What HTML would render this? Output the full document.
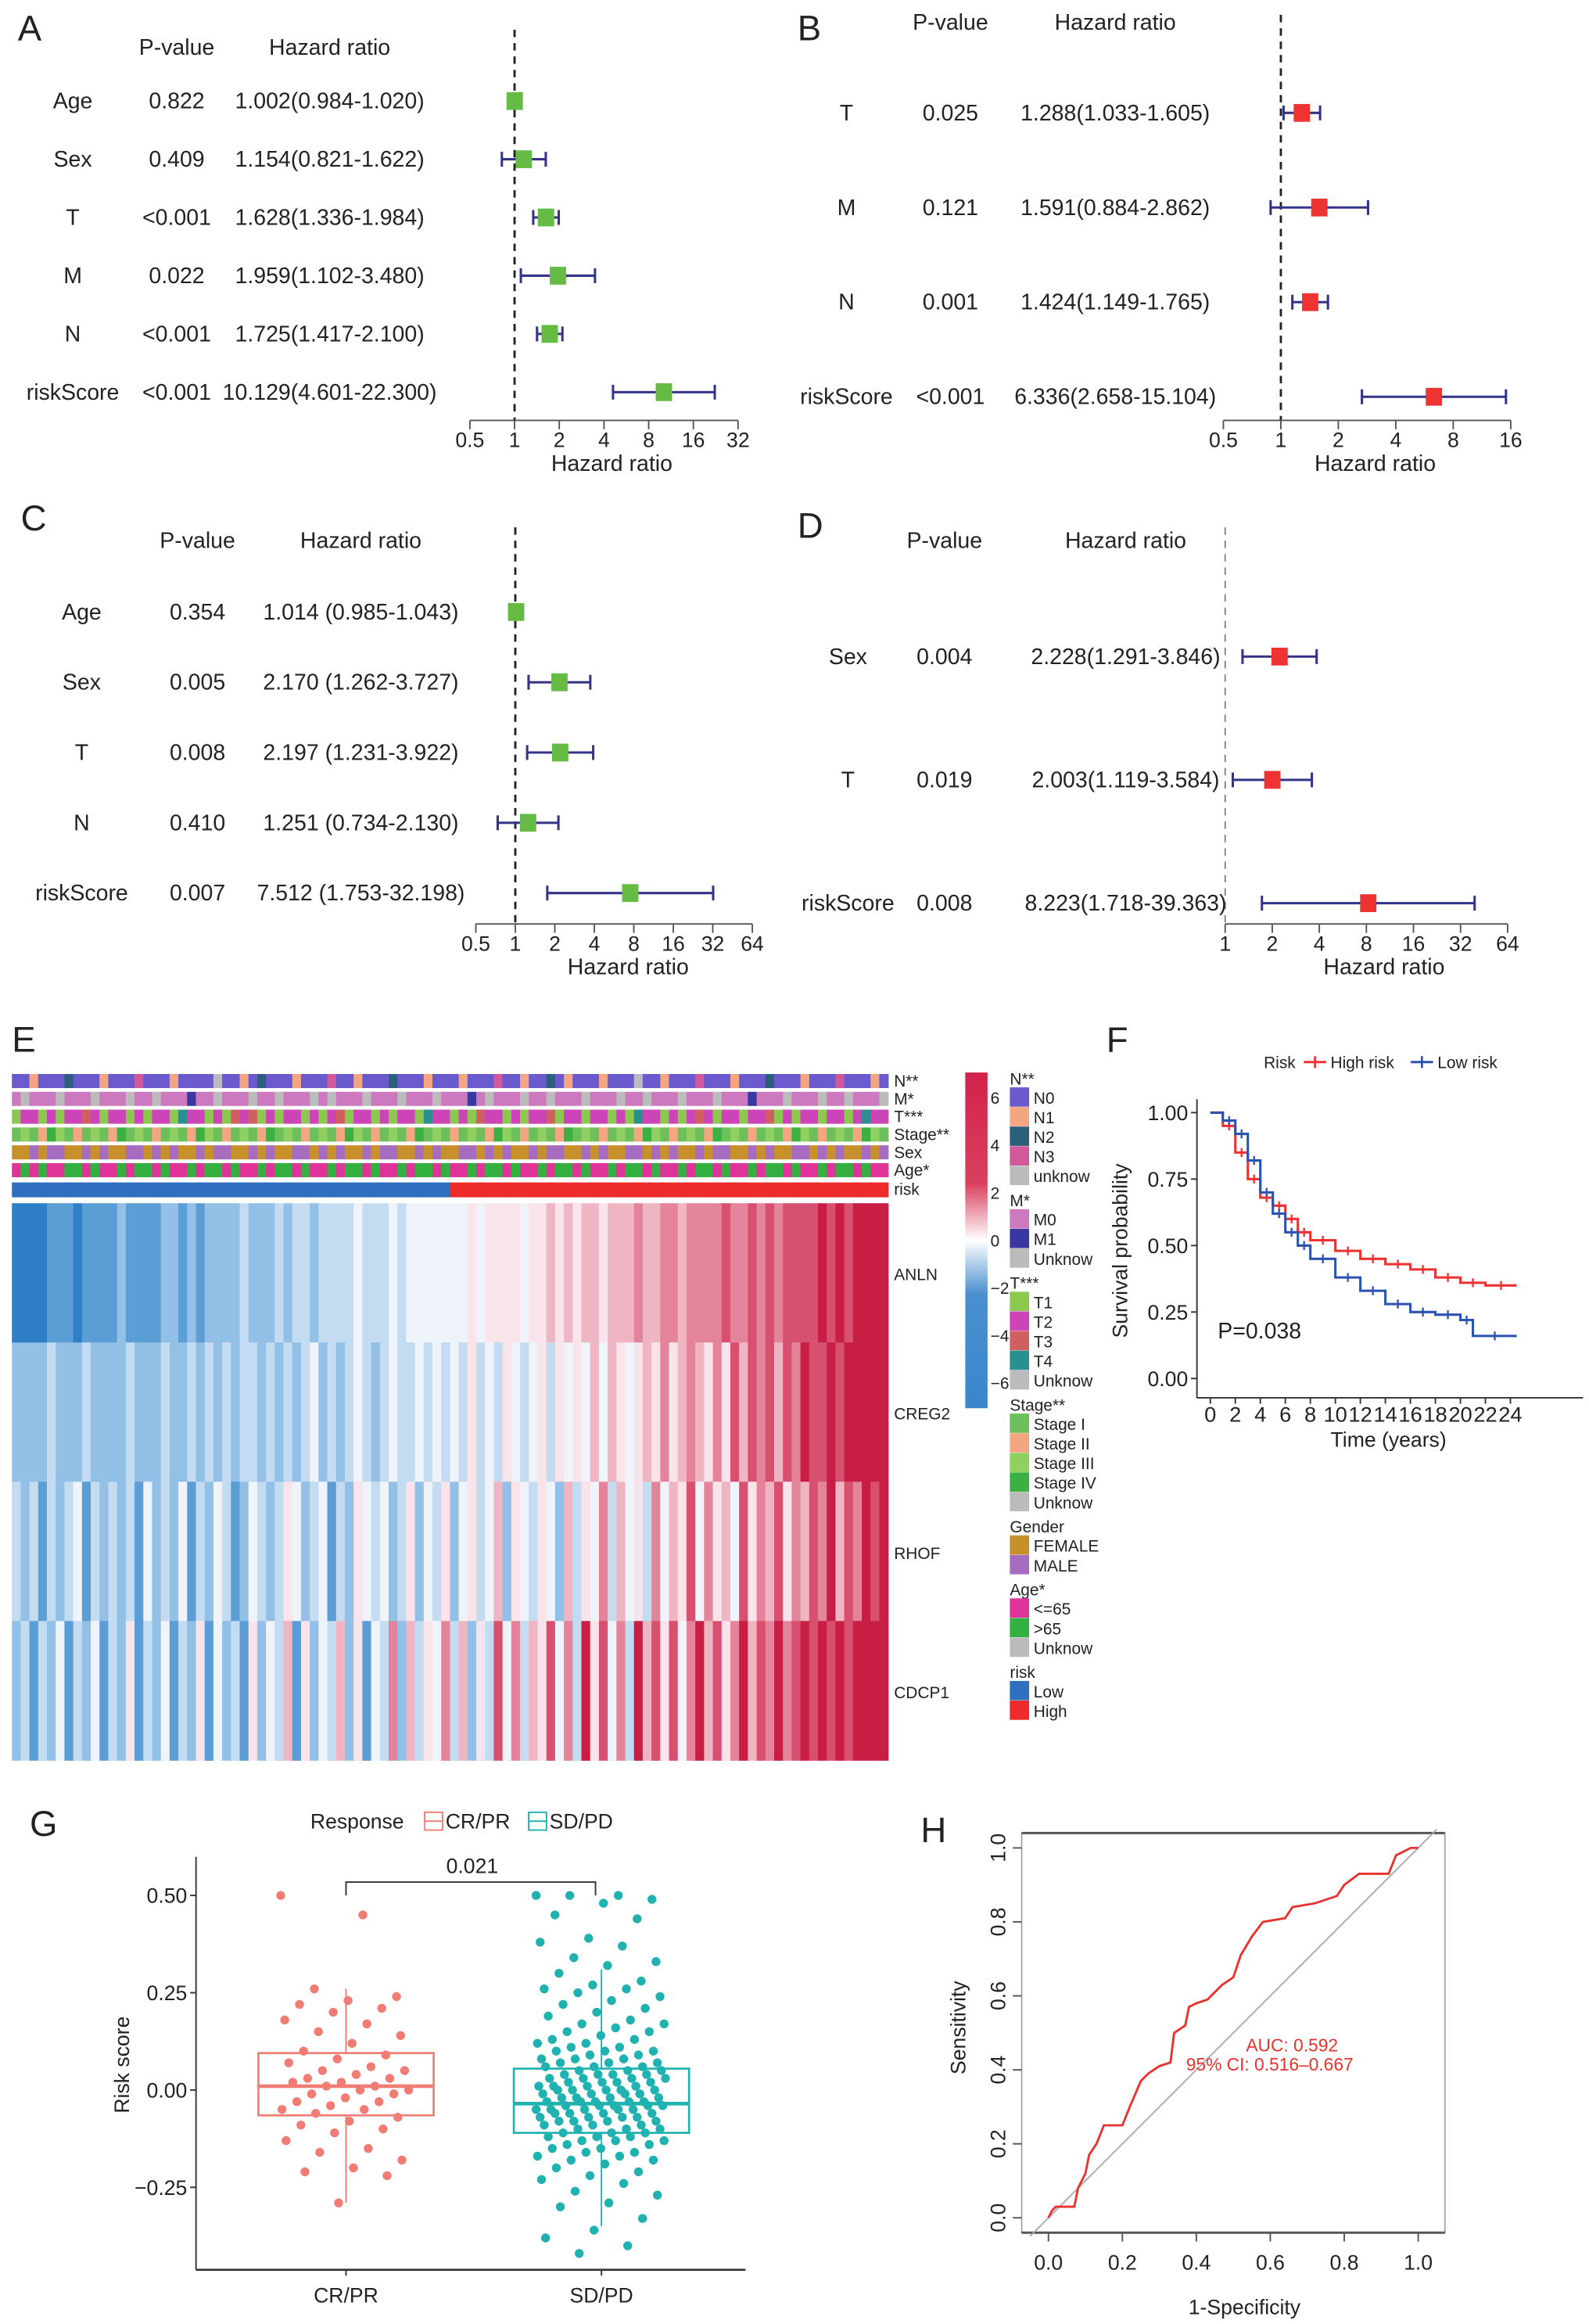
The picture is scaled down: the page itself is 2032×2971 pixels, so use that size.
<!DOCTYPE html>
<html><head><meta charset="utf-8"><style>
html,body{margin:0;padding:0;background:#fff}
svg{display:block}
text{font-family:"Liberation Sans",sans-serif;fill:#222}
</style></head><body>
<svg id="fig" xmlns="http://www.w3.org/2000/svg" width="2032" height="2971" viewBox="0 0 1070 1564.5" preserveAspectRatio="none">
<defs>
<linearGradient id="cbar" x1="0" y1="0" x2="0" y2="1">
<stop offset="0" stop-color="#d2224a"/><stop offset="0.33" stop-color="#d8405e"/><stop offset="0.5" stop-color="#ffffff"/><stop offset="0.66" stop-color="#4a90d0"/><stop offset="1" stop-color="#3a86cc"/>
</linearGradient>
</defs>
<g id="root"></g>
</svg>
<script>
// ---------- Forest plot data ----------
const aLabels=['Age','Sex','T','M','N','riskScore'];
const aP=['0.822','0.409','<0.001','0.022','<0.001','<0.001'];
const aText=['1.002(0.984-1.020)','1.154(0.821-1.622)','1.628(1.336-1.984)','1.959(1.102-3.480)','1.725(1.417-2.100)','10.129(4.601-22.300)'];
const aHR=[1.002,1.154,1.628,1.959,1.725,10.129];
const aLo=[0.984,0.821,1.336,1.102,1.417,4.601];
const aHi=[1.020,1.622,1.984,3.480,2.100,22.300];
const aTicks=[0.5,1,2,4,8,16,32];

const bLabels=['T','M','N','riskScore'];
const bP=['0.025','0.121','0.001','<0.001'];
const bText=['1.288(1.033-1.605)','1.591(0.884-2.862)','1.424(1.149-1.765)','6.336(2.658-15.104)'];
const bHR=[1.288,1.591,1.424,6.336];
const bLo=[1.033,0.884,1.149,2.658];
const bHi=[1.605,2.862,1.765,15.104];
const bTicks=[0.5,1,2,4,8,16];

const cLabels=['Age','Sex','T','N','riskScore'];
const cP=['0.354','0.005','0.008','0.410','0.007'];
const cText=['1.014 (0.985-1.043)','2.170 (1.262-3.727)','2.197 (1.231-3.922)','1.251 (0.734-2.130)','7.512 (1.753-32.198)'];
const cHR=[1.014,2.170,2.197,1.251,7.512];
const cLo=[0.985,1.262,1.231,0.734,1.753];
const cHi=[1.043,3.727,3.922,2.130,32.198];
const cTicks=[0.5,1,2,4,8,16,32,64];

const dLabels=['Sex','T','riskScore'];
const dP=['0.004','0.019','0.008'];
const dText=['2.228(1.291-3.846)','2.003(1.119-3.584)','8.223(1.718-39.363)'];
const dHR=[2.228,2.003,8.223];
const dLo=[1.291,1.119,1.718];
const dHi=[3.846,3.584,39.363];
const dTicks=[1,2,4,8,16,32,64];

// ---------- Heatmap data (levels 0..9) ----------
const geneNames=['ANLN','CREG2','RHOF','CDCP1'];
const geneLevels=[
"0000111011112111122121222232223233233334333434444444545555455656566566676677677778778787888898989999",
"2222322232222322232232323233232323423234323433434343534354345354546465456575676575868786879889899999",
"3231323413232314232413243124323542341325434235243524534625435426354736453746584756485768576879687989",
"2313241324132513241325142315243615243625143726354736253847365847395847396858479685796879789898989999"];
const annNames=['N**','M*','T***','Stage**','Sex','Age*','risk'];
const annCodes=[
"0010002000100030001000040010200010003001000200010001000300100201000100040010003000100020001000300010",
"0200020002000200200010020002002000202000200020002000102000200200020002002000200020001000200020020002",
"0110101121011010110311010212010110101201101011031101021101011201101101031101012101101120101101101311",
"0201320102013020102013201020130201020132010201302010201320102013020102013201020130201020132010201320",
"0010110010100110101001011001010011010100101100101001101010010110010100110101001011001010011010100101",
"0101001101001011010010110100101101001011010010110100101101001011010010110100101101001011010010110100",
"0000000000000000000000000000000000000000000000000011111111111111111111111111111111111111111111111111"];
const cbTicks=[6,4,2,0,-2,-4,-6];

// ---------- Survival data ----------
const survHighT=[0,1,2,3,4,5,6,7,8,10,12,14,16,18,20,22,24.5];
const survHighS=[1,0.95,0.85,0.75,0.68,0.65,0.60,0.55,0.52,0.48,0.45,0.43,0.41,0.38,0.36,0.35,0.35];
const survLowT=[0,1,2,3,4,5,6,7,8,10,12,14,16,18,20,21,24.5];
const survLowS=[1,0.97,0.92,0.82,0.70,0.62,0.55,0.50,0.45,0.38,0.33,0.28,0.25,0.24,0.22,0.16,0.16];
const survXTicks=[0,2,4,6,8,10,12,14,16,18,20,22,24];
const survYTicks=[0,0.25,0.5,0.75,1];
const survYLabels=['0.00','0.25','0.50','0.75','1.00'];

// ---------- Boxplot data ----------
const boxCats=['CR/PR','SD/PD'];
const boxStats=[[-0.29,-0.065,0.01,0.095,0.26],[-0.35,-0.11,-0.035,0.055,0.31]];
const crPoints=[0.50,0.45,0.26,0.24,0.23,0.22,0.21,0.20,0.18,0.17,0.15,0.14,0.12,0.10,0.09,0.08,0.07,0.06,0.05,0.05,0.04,0.03,0.03,0.02,0.02,0.01,0.01,0.00,0.00,-0.01,-0.01,-0.02,-0.03,-0.03,-0.04,-0.05,-0.05,-0.06,-0.07,-0.08,-0.09,-0.10,-0.11,-0.13,-0.15,-0.16,-0.18,-0.20,-0.21,-0.22,-0.29];
const sdPoints=[0.50,0.50,0.50,0.49,0.48,0.45,0.44,0.39,0.38,0.37,0.34,0.33,0.32,0.30,0.28,0.27,0.26,0.26,0.25,0.24,0.23,0.22,0.21,0.20,0.19,0.18,0.17,0.17,0.16,0.15,0.15,0.14,0.13,0.13,0.12,0.12,0.11,0.11,0.10,0.10,0.10,0.09,0.09,0.08,0.08,0.08,0.07,0.07,0.07,0.06,0.06,0.06,0.05,0.05,0.05,0.04,0.04,0.04,0.04,0.03,0.03,0.03,0.03,0.02,0.02,0.02,0.02,0.01,0.01,0.01,0.01,0.00,0.00,0.00,0.00,0.00,-0.01,-0.01,-0.01,-0.01,-0.02,-0.02,-0.02,-0.02,-0.03,-0.03,-0.03,-0.03,-0.03,-0.04,-0.04,-0.04,-0.04,-0.04,-0.05,-0.05,-0.05,-0.05,-0.05,-0.06,-0.06,-0.06,-0.06,-0.07,-0.07,-0.07,-0.07,-0.08,-0.08,-0.08,-0.08,-0.09,-0.09,-0.09,-0.10,-0.10,-0.10,-0.11,-0.11,-0.11,-0.12,-0.12,-0.12,-0.13,-0.13,-0.13,-0.14,-0.14,-0.15,-0.15,-0.16,-0.16,-0.17,-0.17,-0.18,-0.18,-0.19,-0.20,-0.21,-0.22,-0.23,-0.24,-0.26,-0.27,-0.29,-0.30,-0.33,-0.36,-0.38,-0.40,-0.42];
const boxYTicks=[-0.25,0,0.25,0.5];
const boxYLabels=['\u22120.25','0.00','0.25','0.50'];
const pValueG='0.021';

// ---------- ROC data ----------
const rocFpr=[0,0.01,0.02,0.07,0.08,0.10,0.11,0.13,0.15,0.20,0.22,0.25,0.27,0.30,0.33,0.34,0.37,0.38,0.40,0.43,0.47,0.50,0.52,0.55,0.58,0.64,0.66,0.72,0.78,0.80,0.84,0.92,0.94,0.98,1];
const rocTpr=[0,0.02,0.03,0.03,0.08,0.12,0.17,0.20,0.25,0.25,0.30,0.37,0.39,0.41,0.42,0.50,0.52,0.57,0.58,0.59,0.63,0.65,0.71,0.76,0.80,0.81,0.84,0.85,0.87,0.90,0.93,0.93,0.98,1.00,1];
const rocTicks=[0,0.2,0.4,0.6,0.8,1.0];
const rocTickLabels=['0.0','0.2','0.4','0.6','0.8','1.0'];

// ---------- helpers ----------
const NS='http://www.w3.org/2000/svg';
const root=document.getElementById('root');
function mk(tag,attrs,parent,txt){const e=document.createElementNS(NS,tag);for(const k in attrs)e.setAttribute(k,attrs[k]);if(txt!==undefined)e.textContent=txt;(parent||root).appendChild(e);return e;}
function grp(name,parent){const g=mk('g',{},parent);


return g;}
function txt(parent,x,y,s,size,anchor,name,extra){const t=mk('text',Object.assign({x:x,y:y,'font-size':size,'text-anchor':anchor||'start'},extra||{}),parent,s);


return t;}

// panel labels
[['A',12,27],['B',537,27],['C',14,357],['D',537,362],['E',8,708],['F',745,708],['G',20,1236],['H',620,1240]].forEach(p=>{
  txt(root,p[1],p[2],p[0],24,'start','panel-label-'+p[0].toLowerCase());
});

function forest(cfg){
  const g=grp(cfg.name);
  const X=v=>cfg.x1+Math.log2(v)*cfg.ppd;
  txt(g,cfg.pX,cfg.headY,'P-value',15,'middle','p-value-header');
  txt(g,cfg.hrX,cfg.headY,'Hazard ratio',15,'middle','hazard-ratio-header');
  const dl=mk('line',{x1:X(1),x2:X(1),y1:cfg.dashTop,y2:cfg.axisY,stroke:cfg.dashColor,'stroke-width':cfg.dashW,'stroke-dasharray':'5,4'},g);
  
  
  cfg.labels.forEach((lab,i)=>{
    const y=cfg.row0+i*cfg.step;
    txt(g,cfg.labX,y+5,lab,15,'middle','row-label');
    txt(g,cfg.pX,y+5,cfg.p[i],15,'middle','row-p-value');
    txt(g,cfg.hrX,y+5,cfg.text[i],15,'middle','row-hr-text');
    const ci=mk('g',{},g);
    
    
    const lo=X(cfg.lo[i]),hi=X(cfg.hi[i]);
    mk('line',{x1:lo,x2:hi,y1:y,y2:y,stroke:'#333388','stroke-width':1.6},ci);
    mk('line',{x1:lo,x2:lo,y1:y-5,y2:y+5,stroke:'#333388','stroke-width':1.6},ci);
    mk('line',{x1:hi,x2:hi,y1:y-5,y2:y+5,stroke:'#333388','stroke-width':1.6},ci);
    const sq=mk('rect',{x:X(cfg.hr[i])-5.5,y:y-6,width:11,height:12,fill:cfg.color},g);
    
    
  });
  const ax=grp('x-axis',g);
  mk('line',{x1:X(cfg.ticks[0]),x2:X(cfg.ticks[cfg.ticks.length-1]),y1:cfg.axisY,y2:cfg.axisY,stroke:'#555','stroke-width':1},ax);
  cfg.ticks.forEach(t=>{mk('line',{x1:X(t),x2:X(t),y1:cfg.axisY,y2:cfg.axisY+6,stroke:'#555','stroke-width':1},ax);
    txt(ax,X(t),cfg.axisY+18,String(t),14,'middle','x-tick-label');});
  txt(ax,cfg.titleX,cfg.axisY+34,'Hazard ratio',15,'middle','x-axis-title');
}
forest({name:'forest-plot-a',labels:aLabels,p:aP,text:aText,hr:aHR,lo:aLo,hi:aHi,ticks:aTicks,row0:68,step:39.2,labX:49,pX:119,hrX:222,x1:346.5,ppd:30.1,axisY:283,dashTop:20,dashColor:'#222',dashW:1.5,color:'#66bb44',headY:37,titleX:412});
forest({name:'forest-plot-b',labels:bLabels,p:bP,text:bText,hr:bHR,lo:bLo,hi:bHi,ticks:bTicks,row0:76,step:63.7,labX:570,pX:640,hrX:751,x1:862.5,ppd:38.7,axisY:283,dashTop:10,dashColor:'#222',dashW:1.5,color:'#ee3333',headY:20,titleX:926});
forest({name:'forest-plot-c',labels:cLabels,p:cP,text:cText,hr:cHR,lo:cLo,hi:cHi,ticks:cTicks,row0:412,step:47.3,labX:55,pX:133,hrX:243,x1:347,ppd:26.6,axisY:622,dashTop:355,dashColor:'#222',dashW:1.5,color:'#66bb44',headY:369,titleX:423});
forest({name:'forest-plot-d',labels:dLabels,p:dP,text:dText,hr:dHR,lo:dLo,hi:dHi,ticks:dTicks,row0:442,step:83,labX:571,pX:636,hrX:758,x1:825,ppd:31.7,axisY:622,dashTop:355,dashColor:'#777',dashW:0.9,color:'#ee3333',headY:369,titleX:932});

// ---------- Heatmap ----------
(function(){
  const g=grp('heatmap-e');
  const pal=['#2f7fc6','#5b9ed6','#92c0e6','#c4dcf1','#eef4fa','#f8e4ea','#f0b5c2','#e4849a','#d85070','#c81e44'];
  const annPal=[
    ['#6a5acd','#f4a582','#2c5f7c','#d1589a','#bbbbbb'],
    ['#cc79c0','#3838a0','#bbbbbb'],
    ['#8cc850','#cc44b8','#d06060','#2a8f8f','#bbbbbb'],
    ['#6cbf5a','#f4a582','#90d060','#3cb043','#bbbbbb'],
    ['#c8902a','#a66cc0'],
    ['#e0339a','#33b040','#bbbbbb'],
    ['#2f6fc0','#ee2a2a']];
  const x0=8,W=590;
  const annY=[723,735,747,759,771,783,796],annH=[9.5,9.5,9.5,9.5,9.5,9.5,10];
  annCodes.forEach((s,r)=>{
    const ag=grp('annotation-'+annNames[r].replace(/\*/g,'').toLowerCase(),g);
    const w=W/s.length;
    for(let i=0;i<s.length;i++){mk('rect',{x:x0+i*w,y:annY[r],width:w+0.4,height:annH[r],fill:annPal[r][+s[i]]},ag);}
    txt(ag,x0+W+4,annY[r]+8.5,annNames[r],11,'start','annotation-label');
  });
  const gy0=810,gh=93.75;
  geneLevels.forEach((s,r)=>{
    const hg=grp('heatmap-row-'+geneNames[r].toLowerCase(),g);
    const w=W/s.length;
    for(let i=0;i<s.length;i++){mk('rect',{x:x0+i*w,y:gy0+r*gh,width:w+0.4,height:gh+0.3,fill:pal[+s[i]]},hg);}
    txt(hg,x0+W+4,gy0+r*gh+gh/2+5,geneNames[r],11,'start','gene-label');
  });
  const cb=grp('color-scale',g);
  mk('rect',{x:650,y:722,width:15,height:226,fill:'url(#cbar)'},cb);
  cbTicks.forEach(v=>{txt(cb,667,835-v*16+4,v<0?'\u2212'+(-v):String(v),11,'start','color-scale-tick');});
  const lg=grp('annotation-legend',g);
  const groups=[['N**',[['N0',0],['N1',1],['N2',2],['N3',3],['unknow',4]],0],
    ['M*',[['M0',0],['M1',1],['Unknow',2]],1],
    ['T***',[['T1',0],['T2',1],['T3',2],['T4',3],['Unknow',4]],2],
    ['Stage**',[['Stage I',0],['Stage II',1],['Stage III',2],['Stage IV',3],['Unknow',4]],3],
    ['Gender',[['FEMALE',0],['MALE',1]],4],
    ['Age*',[['<=65',0],['>65',1],['Unknow',2]],5],
    ['risk',[['Low',0],['High',1]],6]];
  let y=727;
  groups.forEach(gr=>{
    txt(lg,680,y+3,gr[0],11,'start','legend-title');
    y+=5;
    gr[1].forEach(it=>{mk('rect',{x:680,y:y,width:13,height:13,fill:annPal[gr[2]][it[1]]},lg);
      txt(lg,696,y+11,it[0],11,'start','legend-entry');y+=13.2;});
    y+=11;
  });
})();

// ---------- Survival ----------
(function(){
  const g=grp('survival-plot-f');
  const X=t=>815+t*8.42, Y=s=>928-s*179;
  const ax=grp('axes',g);
  mk('line',{x1:806,x2:806,y1:740,y2:941,stroke:'#333','stroke-width':1},ax);
  mk('line',{x1:806,x2:1066,y1:941,y2:941,stroke:'#333','stroke-width':1},ax);
  survYTicks.forEach((v,i)=>{mk('line',{x1:802,x2:806,y1:Y(v),y2:Y(v),stroke:'#333'},ax);txt(ax,800,Y(v)+5,survYLabels[i],14,'end','y-tick-label');});
  survXTicks.forEach(v=>{mk('line',{x1:X(v),x2:X(v),y1:941,y2:945,stroke:'#333'},ax);txt(ax,X(v),957,String(v),14,'middle','x-tick-label',{textLength:v>=10?16:8,lengthAdjust:'spacingAndGlyphs'});});
  txt(ax,935,974,'Time (years)',14,'middle','x-axis-title');
  txt(ax,0,0,'Survival probability',14,'middle','y-axis-title',{transform:'translate(759,842) rotate(-90)'});
  function step(T,S,color,name){let d='M'+X(T[0])+','+Y(S[0]);for(let i=1;i<T.length;i++){d+=' H'+X(T[i])+' V'+Y(S[i]);}
    const p=mk('path',{d:d,fill:'none',stroke:color,'stroke-width':1.6},g);
    
    
    for(let i=1;i<T.length-1;i++){const xm=(X(T[i])+X(T[i+1]))/2;mk('line',{x1:xm,x2:xm,y1:Y(S[i])-3,y2:Y(S[i])+3,stroke:color,'stroke-width':1.2},g);}
  }
  step(survHighT,survHighS,'#ee3030','high-risk-curve');
  step(survLowT,survLowS,'#2a52b0','low-risk-curve');
  txt(g,820,901,'P=0.038',15,'start','p-value-label');
  const lg=grp('legend',g);
  txt(lg,851,719,'Risk',11,'start','legend-title');
  mk('line',{x1:878,x2:893,y1:715,y2:715,stroke:'#ee3030','stroke-width':1.6},lg);mk('line',{x1:885.5,x2:885.5,y1:711,y2:719,stroke:'#ee3030','stroke-width':1.4},lg);
  txt(lg,896,719,'High risk',11,'start','legend-entry');
  mk('line',{x1:950,x2:965,y1:715,y2:715,stroke:'#2a52b0','stroke-width':1.6},lg);mk('line',{x1:957.5,x2:957.5,y1:711,y2:719,stroke:'#2a52b0','stroke-width':1.4},lg);
  txt(lg,968,719,'Low risk',11,'start','legend-entry');
})();

// ---------- Boxplot ----------
(function(){
  const g=grp('boxplot-g');
  const Y=v=>1407-v*262;
  const cx=[233,405],cols=['#f07c74','#20b2b0'];
  const ax=grp('axes',g);
  mk('line',{x1:132,x2:132,y1:1250,y2:1528,stroke:'#333','stroke-width':1},ax);
  mk('line',{x1:132,x2:502,y1:1528,y2:1528,stroke:'#333','stroke-width':1.4},ax);
  boxYTicks.forEach((v,i)=>{mk('line',{x1:128,x2:132,y1:Y(v),y2:Y(v),stroke:'#333'},ax);txt(ax,126,Y(v)+5,boxYLabels[i],14,'end','y-tick-label');});
  boxCats.forEach((c,i)=>{mk('line',{x1:cx[i],x2:cx[i],y1:1528,y2:1532,stroke:'#333'},ax);txt(ax,cx[i],1550,c,14,'middle','x-tick-label');});
  txt(ax,0,0,'Risk score',14,'middle','y-axis-title',{transform:'translate(87,1390) rotate(-90)'});
  boxStats.forEach((s,i)=>{
    const bg=grp('box-'+boxCats[i].replace('/','-').toLowerCase(),g);
    mk('line',{x1:cx[i],x2:cx[i],y1:Y(s[0]),y2:Y(s[1]),stroke:cols[i],'stroke-width':1},bg);
    mk('line',{x1:cx[i],x2:cx[i],y1:Y(s[3]),y2:Y(s[4]),stroke:cols[i],'stroke-width':1},bg);
    mk('rect',{x:cx[i]-59,y:Y(s[3]),width:118,height:Y(s[1])-Y(s[3]),fill:'none',stroke:cols[i],'stroke-width':1.4},bg);
    mk('line',{x1:cx[i]-59,x2:cx[i]+59,y1:Y(s[2]),y2:Y(s[2]),stroke:cols[i],'stroke-width':2.4},bg);
  });
  [crPoints,sdPoints].forEach((pts,k)=>{
    const pg=grp('points-'+boxCats[k].replace('/','-').toLowerCase(),g);
    pts.forEach((v,i)=>{const off=(((i*61)%97)/97-0.5)*88;mk('circle',{cx:cx[k]+off,cy:Y(v),r:3,fill:cols[k]},pg);});
  });
  const br=grp('significance-bracket',g);
  mk('path',{d:'M233,1276 V1267 H401 V1276',fill:'none',stroke:'#333','stroke-width':1},br);
  txt(br,318,1261,pValueG,14,'middle','p-value-label');
  const lg=grp('legend',g);
  txt(lg,209,1231,'Response',14,'start','legend-title');
  mk('rect',{x:286,y:1220,width:12,height:12,fill:'none',stroke:'#f07c74'},lg);mk('line',{x1:286,x2:298,y1:1226,y2:1226,stroke:'#f07c74'},lg);
  txt(lg,300,1231,'CR/PR',14,'start','legend-entry');
  mk('rect',{x:356,y:1220,width:12,height:12,fill:'none',stroke:'#20b2b0'},lg);mk('line',{x1:356,x2:368,y1:1226,y2:1226,stroke:'#20b2b0'},lg);
  txt(lg,370,1231,'SD/PD',14,'start','legend-entry');
})();

// ---------- ROC ----------
(function(){
  const g=grp('roc-plot-h');
  const X=v=>706+v*249, Y=v=>1493-v*249;
  const ax=grp('axes',g);
  mk('rect',{x:688,y:1234,width:285,height:269,fill:'none',stroke:'#999','stroke-width':0.8},ax);
  mk('line',{x1:688,x2:973,y1:1234,y2:1234,stroke:'#555','stroke-width':1.6},ax);
  mk('line',{x1:688,x2:973,y1:1503,y2:1503,stroke:'#555','stroke-width':1.6},ax);
  rocTicks.forEach((v,i)=>{
    mk('line',{x1:X(v),x2:X(v),y1:1503,y2:1509,stroke:'#555'},ax);
    txt(ax,X(v),1528,rocTickLabels[i],14,'middle','x-tick-label');
    mk('line',{x1:682,x2:688,y1:Y(v),y2:Y(v),stroke:'#555'},ax);
    txt(ax,0,0,rocTickLabels[i],14,'middle','y-tick-label',{transform:'translate('+677+','+Y(v)+') rotate(-90)'});
  });
  txt(ax,838,1558,'1-Specificity',14,'middle','x-axis-title');
  txt(ax,0,0,'Sensitivity',14,'middle','y-axis-title',{transform:'translate(650,1365) rotate(-90)'});
  const dg=mk('line',{x1:X(-0.05),y1:Y(-0.05),x2:X(1.05),y2:Y(1.05),stroke:'#aaa','stroke-width':1},g);
  
  
  let d='';rocFpr.forEach((v,i)=>{d+=(i?' L':'M')+X(v)+','+Y(rocTpr[i]);});
  const p=mk('path',{d:d,fill:'none',stroke:'#e8322e','stroke-width':1.5},g);
  
  
  txt(g,870,1381,'AUC: 0.592',12,'middle','auc-label',{style:'fill:#e8322e'});
  txt(g,855,1394,'95% CI: 0.516\u20130.667',12,'middle','ci-label',{style:'fill:#e8322e'});
})();
</script>
</body></html>
